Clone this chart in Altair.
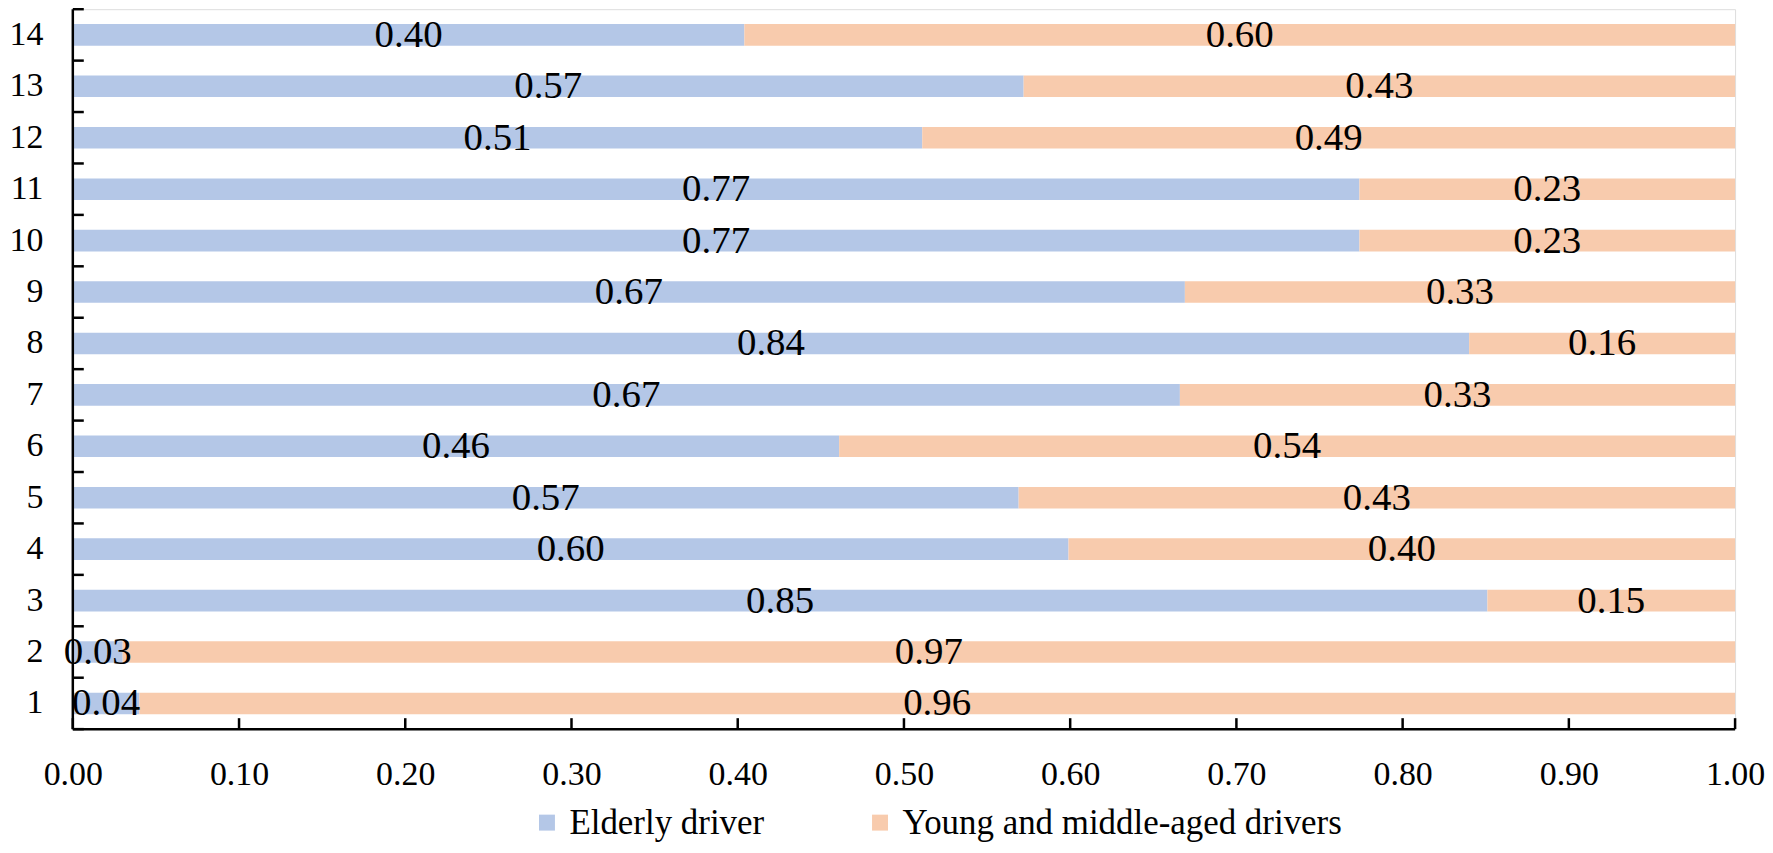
import altair as alt
import pandas as pd

categories = list(range(1, 15))
elderly = [0.04, 0.03, 0.851, 0.599, 0.569, 0.461, 0.666, 0.840, 0.669, 0.774, 0.774, 0.511, 0.572, 0.404]
young = [0.96, 0.97, 0.149, 0.401, 0.431, 0.539, 0.334, 0.160, 0.331, 0.226, 0.226, 0.489, 0.428, 0.596]
series = ["Elderly driver", "Young and middle-aged drivers"]
colors = ["#B4C7E7", "#F8CBAD"]
x_ticks = [0.0, 0.1, 0.2, 0.3, 0.4, 0.5, 0.6, 0.7, 0.8, 0.9, 1.0]
y_boundaries = list(range(0, 15))

rows = []
for c, e, y in zip(categories, elderly, young):
    rows.append({"cat": c, "group": series[0], "start": 0.0, "end": e, "val": e, "mid": e / 2})
    rows.append({"cat": c, "group": series[1], "start": e, "end": e + y, "val": y, "mid": e + y / 2})
df = pd.DataFrame(rows)

W, H = 1667, 722
FONT = "Liberation Serif"

xscale = alt.Scale(domain=[0, 1], nice=False)
xaxis = alt.Axis(
    orient="bottom", ticks=False, values=x_ticks, format=".2f", domain=False,
    labelPadding=29, labelFont=FONT, labelFontSize=34, labelColor="black",
    grid=False, labelFlush=False, labelOverlap=False, title=None,
)

yenc = alt.Y(
    "cat:O",
    sort="descending",
    title=None,
    scale=alt.Scale(paddingInner=0.58, paddingOuter=0.29),
    axis=alt.Axis(
        orient="left", ticks=False, domain=False, labelPadding=30, labelFont=FONT,
        labelFontSize=34, labelColor="black", grid=False,
    ),
)

base = alt.Chart(df)

bars = base.mark_bar().encode(
    y=yenc,
    x=alt.X("start:Q", title=None, scale=xscale, axis=xaxis),
    x2="end:Q",
    color=alt.Color(
        "group:N",
        scale=alt.Scale(domain=series, range=colors),
        legend=alt.Legend(
            orient="none", legendX=458, legendY=798, direction="horizontal",
            title=None, symbolType="square", symbolSize=256, symbolStrokeWidth=0,
            labelFont=FONT, labelFontSize=35, labelColor="black",
            columnPadding=98, labelOffset=5, padding=0, labelLimit=1000,
        ),
    ),
)

labels = base.mark_text(font=FONT, fontSize=39, baseline="middle", align="center", color="black").encode(
    y=alt.Y("cat:O", sort="descending"),
    x=alt.X("mid:Q", scale=xscale, axis=xaxis),
    text=alt.Text("val:Q", format=".2f"),
)

main = alt.layer(bars, labels)

xt = alt.Chart(pd.DataFrame({"t": x_ticks})).mark_rule(color="black", strokeWidth=2.5).encode(
    x=alt.X("t:Q", scale=xscale, axis=xaxis),
    y=alt.value(H - 11),
    y2=alt.value(H),
)

yt = alt.Chart(pd.DataFrame({"b": y_boundaries})).mark_rule(color="black", strokeWidth=2.5).encode(
    y=alt.Y("b:Q", scale=alt.Scale(domain=[0, 14], nice=False, zero=False), axis=None),
    x=alt.value(0),
    x2=alt.value(11),
)

one = alt.Chart(pd.DataFrame({"a": [0]}))
left_line = one.mark_rule(color="black", strokeWidth=2.5).encode(
    x=alt.value(0), y=alt.value(0), y2=alt.value(H)
)
bottom_line = one.mark_rule(color="black", strokeWidth=2.5).encode(
    x=alt.value(0), x2=alt.value(W), y=alt.value(H)
)

chart = (
    alt.layer(main, xt, yt, left_line, bottom_line)
    .resolve_scale(y="independent")
    .properties(
        width=W, height=H,
        autosize=alt.AutoSizeParams(type="none"),
        padding={"left": 65, "top": 0, "right": 30, "bottom": 115},
    )
    .configure_view(stroke=None)
    .configure(font=FONT)
)

chart.save("out.html", embed_options={"renderer": "svg", "actions": False})
